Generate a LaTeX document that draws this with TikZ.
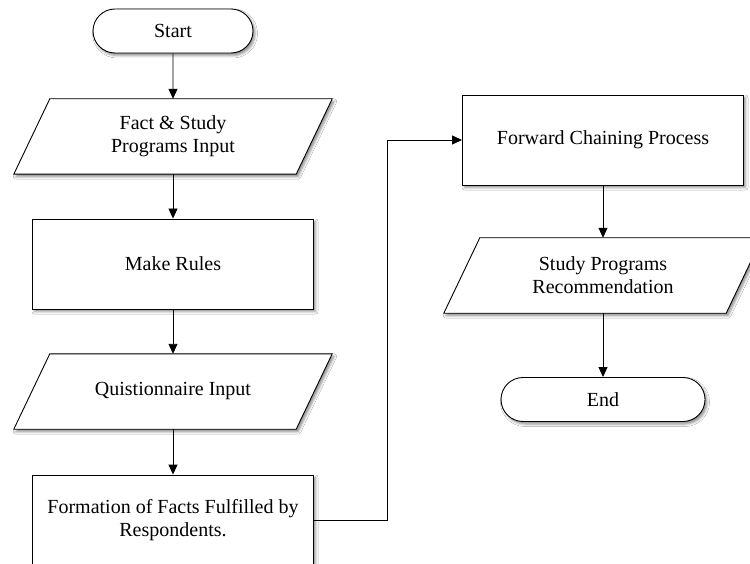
\documentclass[tikz,border=0pt]{standalone}
\usepackage{fontspec}
\setmainfont{Liberation Serif}
\usepackage{tikz}
\usetikzlibrary{arrows.meta,positioning,shapes.misc,shadows.blur,backgrounds}
\tikzset{
    line color/.style={black},
    box shadow/.style={blur shadow={shadow xshift=2pt,shadow yshift=-2.5pt,shadow blur radius=2.5pt,shadow opacity=45}},
    outline/.style={draw,line color,line width=.9pt,fill=white,box shadow},
    box text/.style={align=center,inner sep=2pt,font=\fontsize{20}{23}\selectfont},
    process box/.style={outline,box text,rectangle,minimum width=281pt,minimum height=90pt},
    io box/.style={box text,rectangle,minimum width=282pt,minimum height=75pt},
    terminal/.style={outline,box text,rounded rectangle,minimum height=44pt},
    arr/.style={-{Triangle[length=10pt,width=9pt]},line color,line width=.9pt},
}

\begin{document}
\begin{tikzpicture}[x=1pt,y=-1pt]
        \clip (0,0) rectangle (750,564);

        % left column
        \node[terminal,minimum width=164pt] (start) at (173,31) {Start};
        \node[io box] (fsinput) at (173,136.5) {Fact \& Study\\Programs Input};
        \node[process box] (rules) at (173,264) {Make Rules};
        \node[io box] (qinput) at (173,391.5) {Quistionnaire Input};
        \node[process box] (form) at (173,520) {Formation of Facts Fulfilled by\\Respondents.};

        % right column
        \node[process box] (fcp) at (603,140) {Forward Chaining Process};
        \node[io box] (recom) at (603,275.5) {Study Programs\\Recommendation};
        \node[terminal,minimum width=208pt] (end) at (603,399.5) {End};

        % white page, then the slanted input/output outlines behind their texts
        \begin{scope}[on background layer]
            \fill[white] (0,0) rectangle (750,564);
            \foreach \n in {fsinput,qinput,recom}{
                \draw[outline] ([xshift=-18pt]\n.south west) -- ([xshift=18pt]\n.north west)
                    -- ([xshift=18pt]\n.north east) -- ([xshift=-18pt]\n.south east) -- cycle;
            }
        \end{scope}

        \draw[arr] (start) -- (fsinput);
        \draw[arr] (fsinput) -- (rules);
        \draw[arr] (rules) -- (qinput);
        \draw[arr] (qinput) -- (form);
        \draw[arr] (form.east) -- ++(73,0) |- (fcp.west);
        \draw[arr] (fcp) -- (recom);
        \draw[arr] (recom) -- (end);
    \end{tikzpicture}
\end{document}
